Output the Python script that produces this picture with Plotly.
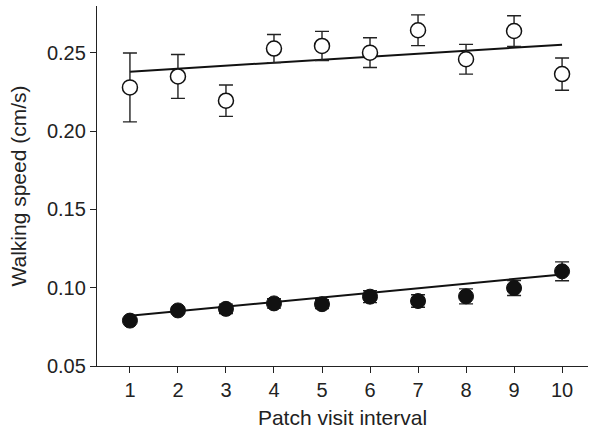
import plotly.graph_objects as go

# Patch visit interval (x) and mean walking speed with SE for two groups
intervals = [1, 2, 3, 4, 5, 6, 7, 8, 9, 10]

open_speed = [0.228, 0.235, 0.2195, 0.2528, 0.2545, 0.2502, 0.2645, 0.246, 0.264, 0.2365]
open_err = [0.022, 0.014, 0.0100, 0.0090, 0.0093, 0.0095, 0.0098, 0.0095, 0.0098, 0.0103]

filled_speed = [0.0790, 0.0855, 0.0865, 0.0900, 0.0895, 0.0943, 0.0915, 0.0945, 0.0998, 0.1105]
filled_err = [0.0012, 0.0020, 0.0030, 0.0030, 0.0028, 0.0038, 0.0040, 0.0048, 0.0048, 0.0060]

# Linear regression fits: (intercept, slope)
open_fit = (0.2361, 0.00192)
filled_fit = (0.0791, 0.00294)

y_ticks = [0.05, 0.10, 0.15, 0.20, 0.25]

fit_x = [intervals[0], intervals[-1]]

fig = go.Figure()

for fit in (open_fit, filled_fit):
    fig.add_trace(go.Scatter(
        x=fit_x, y=[fit[0] + fit[1] * v for v in fit_x],
        mode="lines", line=dict(color="#111111", width=2),
        showlegend=False, hoverinfo="skip"))

err_style = dict(type="data", color="#222222", thickness=1.4, width=7)

fig.add_trace(go.Scatter(
    x=intervals, y=open_speed, mode="markers",
    error_y=dict(array=open_err, **err_style),
    marker=dict(symbol="circle", size=15, color="white",
                line=dict(color="#111111", width=1.5)),
    showlegend=False))

fig.add_trace(go.Scatter(
    x=intervals, y=filled_speed, mode="markers",
    error_y=dict(array=filled_err, **err_style),
    marker=dict(symbol="circle", size=15, color="#111111",
                line=dict(color="#111111", width=1)),
    showlegend=False))

tick_font = dict(family="Liberation Sans, Arial, sans-serif", size=20, color="#222222")
title_font = dict(family="Liberation Sans, Arial, sans-serif", size=21, color="#222222")

fig.update_layout(
    width=589, height=429,
    margin=dict(l=97, r=1, t=6, b=63),
    paper_bgcolor="white", plot_bgcolor="white",
    font=tick_font,
    xaxis=dict(
        range=[0.314, 10.54], tickvals=intervals,
        showline=True, linecolor="#222222", linewidth=1.3,
        ticks="outside", ticklen=6, tickcolor="#222222", tickwidth=1.3,
        showgrid=False, zeroline=False, tickfont=tick_font,
        title=dict(text="Patch visit interval", font=title_font, standoff=11)),
    yaxis=dict(
        range=[0.05, 0.28], tickvals=y_ticks, tickformat=".2f",
        showline=True, linecolor="#222222", linewidth=1.3,
        ticks="outside", ticklen=6, tickcolor="#222222", tickwidth=1.3,
        showgrid=False, zeroline=False, tickfont=tick_font,
        title=dict(text="Walking speed (cm/s)", font=title_font, standoff=14)),
)

fig.write_html("out.html")
